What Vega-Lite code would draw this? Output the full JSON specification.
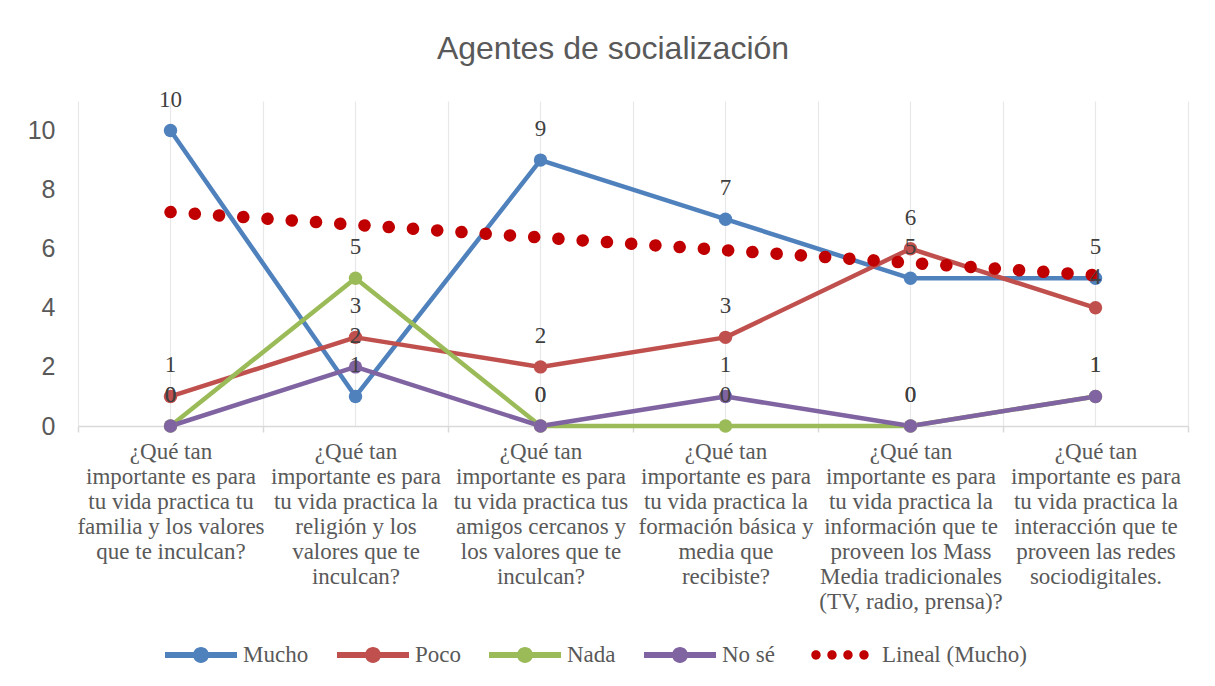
{
  "$schema": "https://vega.github.io/schema/vega-lite/v6.json",
  "width": 1110,
  "height": 325,
  "autosize": {"type": "none"},
  "padding": {"left": 78, "top": 101, "right": 27, "bottom": 260},
  "background": "white",
  "title": {"text": "Agentes de socialización", "font": "Liberation Sans", "fontSize": 32, "fontWeight": "normal", "color": "#595959", "anchor": "middle", "dx": -20, "offset": -2, "baseline": "alphabetic"},
  "config": {"view": {"stroke": null}},
  "datasets": {
    "series": [
      {"pregunta": "¿Qué tan\nimportante es para\ntu vida practica tu\nfamilia y los valores\nque te inculcan?", "serie": "Mucho", "valor": 10},
      {"pregunta": "¿Qué tan\nimportante es para\ntu vida practica la\nreligión y los\nvalores que te\ninculcan?", "serie": "Mucho", "valor": 1},
      {"pregunta": "¿Qué tan\nimportante es para\ntu vida practica tus\namigos cercanos y\nlos valores que te\ninculcan?", "serie": "Mucho", "valor": 9},
      {"pregunta": "¿Qué tan\nimportante es para\ntu vida practica la\nformación básica y\nmedia que\nrecibiste?", "serie": "Mucho", "valor": 7},
      {"pregunta": "¿Qué tan\nimportante es para\ntu vida practica la\ninformación que te\nproveen los Mass\nMedia tradicionales\n(TV, radio, prensa)?", "serie": "Mucho", "valor": 5},
      {"pregunta": "¿Qué tan\nimportante es para\ntu vida practica la\ninteracción que te\nproveen las redes\nsociodigitales.", "serie": "Mucho", "valor": 5},
      {"pregunta": "¿Qué tan\nimportante es para\ntu vida practica tu\nfamilia y los valores\nque te inculcan?", "serie": "Poco", "valor": 1},
      {"pregunta": "¿Qué tan\nimportante es para\ntu vida practica la\nreligión y los\nvalores que te\ninculcan?", "serie": "Poco", "valor": 3},
      {"pregunta": "¿Qué tan\nimportante es para\ntu vida practica tus\namigos cercanos y\nlos valores que te\ninculcan?", "serie": "Poco", "valor": 2},
      {"pregunta": "¿Qué tan\nimportante es para\ntu vida practica la\nformación básica y\nmedia que\nrecibiste?", "serie": "Poco", "valor": 3},
      {"pregunta": "¿Qué tan\nimportante es para\ntu vida practica la\ninformación que te\nproveen los Mass\nMedia tradicionales\n(TV, radio, prensa)?", "serie": "Poco", "valor": 6},
      {"pregunta": "¿Qué tan\nimportante es para\ntu vida practica la\ninteracción que te\nproveen las redes\nsociodigitales.", "serie": "Poco", "valor": 4},
      {"pregunta": "¿Qué tan\nimportante es para\ntu vida practica tu\nfamilia y los valores\nque te inculcan?", "serie": "Nada", "valor": 0},
      {"pregunta": "¿Qué tan\nimportante es para\ntu vida practica la\nreligión y los\nvalores que te\ninculcan?", "serie": "Nada", "valor": 5},
      {"pregunta": "¿Qué tan\nimportante es para\ntu vida practica tus\namigos cercanos y\nlos valores que te\ninculcan?", "serie": "Nada", "valor": 0},
      {"pregunta": "¿Qué tan\nimportante es para\ntu vida practica la\nformación básica y\nmedia que\nrecibiste?", "serie": "Nada", "valor": 0},
      {"pregunta": "¿Qué tan\nimportante es para\ntu vida practica la\ninformación que te\nproveen los Mass\nMedia tradicionales\n(TV, radio, prensa)?", "serie": "Nada", "valor": 0},
      {"pregunta": "¿Qué tan\nimportante es para\ntu vida practica la\ninteracción que te\nproveen las redes\nsociodigitales.", "serie": "Nada", "valor": 1},
      {"pregunta": "¿Qué tan\nimportante es para\ntu vida practica tu\nfamilia y los valores\nque te inculcan?", "serie": "No sé", "valor": 0},
      {"pregunta": "¿Qué tan\nimportante es para\ntu vida practica la\nreligión y los\nvalores que te\ninculcan?", "serie": "No sé", "valor": 2},
      {"pregunta": "¿Qué tan\nimportante es para\ntu vida practica tus\namigos cercanos y\nlos valores que te\ninculcan?", "serie": "No sé", "valor": 0},
      {"pregunta": "¿Qué tan\nimportante es para\ntu vida practica la\nformación básica y\nmedia que\nrecibiste?", "serie": "No sé", "valor": 1},
      {"pregunta": "¿Qué tan\nimportante es para\ntu vida practica la\ninformación que te\nproveen los Mass\nMedia tradicionales\n(TV, radio, prensa)?", "serie": "No sé", "valor": 0},
      {"pregunta": "¿Qué tan\nimportante es para\ntu vida practica la\ninteracción que te\nproveen las redes\nsociodigitales.", "serie": "No sé", "valor": 1}
    ],
    "trend": [
      {"pregunta": "¿Qué tan\nimportante es para\ntu vida practica tu\nfamilia y los valores\nque te inculcan?", "serie": "Lineal (Mucho)", "valor": 7.24},
      {"pregunta": "¿Qué tan\nimportante es para\ntu vida practica la\nreligión y los\nvalores que te\ninculcan?", "serie": "Lineal (Mucho)", "valor": 6.81},
      {"pregunta": "¿Qué tan\nimportante es para\ntu vida practica tus\namigos cercanos y\nlos valores que te\ninculcan?", "serie": "Lineal (Mucho)", "valor": 6.38},
      {"pregunta": "¿Qué tan\nimportante es para\ntu vida practica la\nformación básica y\nmedia que\nrecibiste?", "serie": "Lineal (Mucho)", "valor": 5.95},
      {"pregunta": "¿Qué tan\nimportante es para\ntu vida practica la\ninformación que te\nproveen los Mass\nMedia tradicionales\n(TV, radio, prensa)?", "serie": "Lineal (Mucho)", "valor": 5.52},
      {"pregunta": "¿Qué tan\nimportante es para\ntu vida practica la\ninteracción que te\nproveen las redes\nsociodigitales.", "serie": "Lineal (Mucho)", "valor": 5.10}
    ]
  },
  "data": {"name": "series"},
  "encoding": {
    "y": {
      "field": "valor", "type": "quantitative",
      "scale": {"domain": [0, 11], "nice": false, "zero": true},
      "axis": {"values": [0, 2, 4, 6, 8, 10], "title": null, "grid": false, "ticks": false, "domain": false, "labelFont": "Liberation Sans", "labelFontSize": 25, "labelColor": "#595959", "labelPadding": 23}
    }
  },
  "resolve": {"axis": {"x": "independent"}},
  "layer": [
    {
      "mark": {"type": "point", "filled": true, "opacity": 0},
      "encoding": {
        "x": {"field": "pregunta", "type": "nominal", "scale": {"type": "band", "paddingInner": 0, "paddingOuter": 0}, "axis": null},
        "color": {"field": "serie", "type": "nominal", "legend": {"title": null, "orient": "none", "legendX": 87, "legendY": 518, "direction": "horizontal", "symbolSize": 5184, "symbolOpacity": 1, "symbolStrokeWidth": 0, "labelFont": "Liberation Serif", "labelFontSize": 23, "labelColor": "#595959", "labelOffset": 6, "columnPadding": 28, "labelLimit": 300}},
        "shape": {"field": "serie", "type": "nominal", "scale": {"domain": ["Mucho", "Poco", "Nada", "No sé", "Lineal (Mucho)"], "range": [
          "M-1,-0.083L1,-0.083L1,0.083L-1,0.083Z M-0.222,0A0.222,0.222,0,1,1,0.222,0A0.222,0.222,0,1,1,-0.222,0Z",
          "M-1,-0.083L1,-0.083L1,0.083L-1,0.083Z M-0.222,0A0.222,0.222,0,1,1,0.222,0A0.222,0.222,0,1,1,-0.222,0Z",
          "M-1,-0.083L1,-0.083L1,0.083L-1,0.083Z M-0.222,0A0.222,0.222,0,1,1,0.222,0A0.222,0.222,0,1,1,-0.222,0Z",
          "M-1,-0.083L1,-0.083L1,0.083L-1,0.083Z M-0.222,0A0.222,0.222,0,1,1,0.222,0A0.222,0.222,0,1,1,-0.222,0Z",
          "M-0.797,0A0.13,0.13,0,1,1,-0.537,0A0.13,0.13,0,1,1,-0.797,0Z M-0.352,0A0.13,0.13,0,1,1,-0.092,0A0.13,0.13,0,1,1,-0.352,0Z M0.092,0A0.13,0.13,0,1,1,0.352,0A0.13,0.13,0,1,1,0.092,0Z M0.537,0A0.13,0.13,0,1,1,0.797,0A0.13,0.13,0,1,1,0.537,0Z"
        ]}, "legend": {"title": null, "orient": "none", "legendX": 87, "legendY": 518, "direction": "horizontal", "symbolSize": 5184, "symbolOpacity": 1, "symbolStrokeWidth": 0, "labelFont": "Liberation Serif", "labelFontSize": 23, "labelColor": "#595959", "labelOffset": 6, "columnPadding": 28, "labelLimit": 300}}
      }
    },
    {
      "mark": {"type": "line", "strokeWidth": 4.5, "strokeJoin": "round", "strokeCap": "round"},
      "encoding": {
        "x": {
          "field": "pregunta", "type": "nominal",
          "scale": {"type": "band", "paddingInner": 0, "paddingOuter": 0, "domain": [
            "¿Qué tan\nimportante es para\ntu vida practica tu\nfamilia y los valores\nque te inculcan?",
            "¿Qué tan\nimportante es para\ntu vida practica la\nreligión y los\nvalores que te\ninculcan?",
            "¿Qué tan\nimportante es para\ntu vida practica tus\namigos cercanos y\nlos valores que te\ninculcan?",
            "¿Qué tan\nimportante es para\ntu vida practica la\nformación básica y\nmedia que\nrecibiste?",
            "¿Qué tan\nimportante es para\ntu vida practica la\ninformación que te\nproveen los Mass\nMedia tradicionales\n(TV, radio, prensa)?",
            "¿Qué tan\nimportante es para\ntu vida practica la\ninteracción que te\nproveen las redes\nsociodigitales."
          ]},
          "axis": {"orient": "bottom", "title": null, "tickBand": "extent", "ticks": true, "tickSize": 6, "tickColor": "#D9D9D9", "tickWidth": 1.5, "grid": true, "gridColor": "#E8E8E8", "gridWidth": 1.2, "domainColor": "#D9D9D9", "domainWidth": 1.5, "labelAngle": 0, "labelFont": "Liberation Serif", "labelFontSize": 23, "labelColor": "#595959", "labelLineHeight": 25, "labelPadding": 8, "labelBaseline": "top", "labelExpr": "split(datum.label, '\\n')", "labelLimit": 400, "labelOverlap": false, "labelFlush": false, "labelBound": false}
        },
        "color": {"field": "serie", "type": "nominal", "scale": {"domain": ["Mucho", "Poco", "Nada", "No sé", "Lineal (Mucho)"], "range": ["#4F81BD", "#C0504D", "#9BBB59", "#8064A2", "#C00000"]}, "legend": null}
      }
    },
    {
      "mark": {"type": "point", "filled": true, "size": 180, "opacity": 1},
      "encoding": {
        "x": {"field": "pregunta", "type": "nominal", "scale": {"type": "band", "paddingInner": 0, "paddingOuter": 0}, "axis": {"orient": "top", "title": null, "labels": false, "ticks": false, "domain": false, "grid": true, "gridColor": "#E8E8E8", "gridWidth": 1.2}},
        "color": {"field": "serie", "type": "nominal", "legend": null}
      }
    },
    {
      "data": {"name": "trend"},
      "mark": {"type": "line", "strokeWidth": 12.5, "strokeDash": [0.1, 24.2], "strokeCap": "round"},
      "encoding": {
        "x": {"field": "pregunta", "type": "nominal", "scale": {"type": "band", "paddingInner": 0, "paddingOuter": 0}, "axis": null},
        "color": {"field": "serie", "type": "nominal", "legend": null}
      }
    },
    {
      "mark": {"type": "text", "font": "Liberation Serif", "fontSize": 23, "color": "#404040", "dy": -31, "baseline": "middle"},
      "encoding": {
        "x": {"field": "pregunta", "type": "nominal", "scale": {"type": "band", "paddingInner": 0, "paddingOuter": 0}, "axis": null},
        "text": {"field": "valor", "type": "quantitative"}
      }
    }
  ]
}
